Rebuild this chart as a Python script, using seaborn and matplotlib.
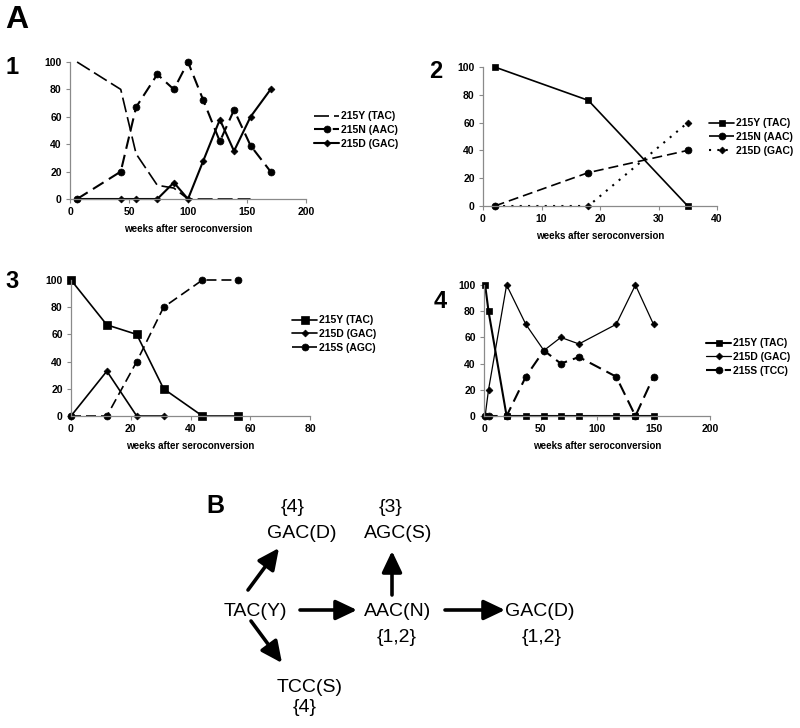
import numpy as np
import seaborn as sns
import matplotlib.pyplot as plt
from matplotlib.patches import FancyArrowPatch

# ---- data ----
# patient 1
weeks1 = [6, 43, 56, 74, 88, 100, 113, 127, 139, 153, 170]
tac1 = [100, 80, 33, 10, 8, 0, 0, 0, 0, 0]
aac1 = [0, 20, 67, 91, 80, 100, 72, 42, 65, 39, 20]
gac1 = [0, 0, 0, 0, 12, 0, 28, 58, 35, 60, 80]

# patient 2
weeks2 = [2, 18, 35]
tac2 = [100, 76, 0]
aac2 = [0, 24, 40]
gac2 = [0, 0, 60]

# patient 3
weeks3 = [0, 12, 22, 31, 44, 56]
tac3 = [100, 67, 60, 20, 0, 0]
gac3 = [0, 33, 0, 0]
agc3 = [0, 0, 40, 80, 100, 100]

# patient 4
weeks4 = [1, 4, 20, 37, 53, 68, 84, 117, 134, 150]
tac4 = [100, 80, 0, 0, 0, 0, 0, 0, 0, 0]
gac4 = [0, 20, 100, 70, 50, 60, 55, 70, 100, 70]
tcc4 = [0, 0, 0, 30, 50, 40, 45, 30, 0, 30]

sns.set_style("ticks")
plt.rcParams['font.family'] = ['Liberation Sans', 'DejaVu Sans']
plt.rcParams['font.weight'] = 'bold'
plt.rcParams['text.color'] = 'black'
plt.rcParams['axes.labelcolor'] = 'black'
plt.rcParams['xtick.labelcolor'] = 'black'
plt.rcParams['ytick.labelcolor'] = 'black'

fig = plt.figure(figsize=(8, 7.28), dpi=100)

W, H = 800, 728


def rect(x0, x1, ytop, ybot):
    return [x0 / W, 1 - ybot / H, (x1 - x0) / W, (ybot - ytop) / H]


def draw(ax, x, y, label, marker, ls, lw, ms):
    sns.lineplot(x=x[:len(y)], y=y, ax=ax, color='black', marker=marker,
                 linestyle=ls, linewidth=lw, markersize=ms,
                 markeredgecolor='black', markeredgewidth=0.5,
                 clip_on=False, label=label)


def style(ax, xmax, xstep, leg_x, leg_y):
    ax.set_xlim(0, xmax)
    ax.set_ylim(0, 100)
    ax.set_xticks(np.arange(0, xmax + 1, xstep))
    ax.set_yticks(range(0, 101, 20))
    ax.set_xlabel('weeks after seroconversion', fontsize=7, fontweight='bold', labelpad=5)
    ax.set_ylabel('')
    sns.despine(ax=ax)
    for s in ['left', 'bottom']:
        ax.spines[s].set_color('#8a8a8a')
        ax.spines[s].set_linewidth(0.9)
    ax.tick_params(length=3, width=0.8, color='#8a8a8a', labelsize=7.5, pad=3)
    ax.legend(loc='center left', bbox_to_anchor=(leg_x / W, 1 - leg_y / H),
              bbox_transform=fig.transFigure, frameon=False, fontsize=7.5,
              handlelength=2.4, handletextpad=0.2, labelspacing=0.35,
              borderpad=0, borderaxespad=0)


dash = (0, (6, 3))
longdash = (0, (9, 3))
dotted = (0, (1, 3))

ax1 = fig.add_axes(rect(70, 306, 62, 199))
draw(ax1, weeks1, tac1, '215Y (TAC)', None, longdash, 1.2, 0)
draw(ax1, weeks1, aac1, '215N (AAC)', 'o', dash, 1.5, 5)
draw(ax1, weeks1, gac1, '215D (GAC)', 'D', '-', 1.5, 3.5)
style(ax1, 200, 50, 314, 130)

ax2 = fig.add_axes(rect(483, 717, 67, 206))
draw(ax2, weeks2, tac2, '215Y (TAC)', 's', '-', 1.2, 5)
draw(ax2, weeks2, aac2, '215N (AAC)', 'o', dash, 1.2, 5)
draw(ax2, weeks2, gac2, '215D (GAC)', 'D', dotted, 1.5, 3.5)
style(ax2, 40, 10, 709, 137)

ax3 = fig.add_axes(rect(71, 310, 280, 416))
draw(ax3, weeks3, tac3, '215Y (TAC)', 's', '-', 1.2, 5.5)
draw(ax3, weeks3, gac3, '215D (GAC)', 'D', '-', 1.2, 3.5)
draw(ax3, weeks3, agc3, '215S (AGC)', 'o', dash, 1.2, 5)
style(ax3, 80, 20, 292, 334)

ax4 = fig.add_axes(rect(484, 710, 285, 416))
draw(ax4, weeks4, tac4, '215Y (TAC)', 's', '-', 1.5, 5)
draw(ax4, weeks4, gac4, '215D (GAC)', 'D', '-', 0.9, 3.5)
draw(ax4, weeks4, tcc4, '215S (TCC)', 'o', dash, 1.5, 5)
style(ax4, 200, 50, 706, 357)

# overlay in pixel coordinates for labels and the pathway diagram
ov = fig.add_axes([0, 0, 1, 1])
ov.set_xlim(0, W)
ov.set_ylim(H, 0)
ov.axis('off')

for txt, x, y, fs in [('A', 17, 20, 23), ('1', 12, 68, 17), ('2', 436, 71, 17),
                      ('3', 12, 282, 17), ('4', 440, 302, 17), ('B', 215, 506, 18)]:
    ov.text(x, y, txt, fontsize=fs, fontweight='bold', ha='center', va='center')

nodes = [('{4}', 293, 507), ('GAC(D)', 302, 533), ('{3}', 391, 507),
         ('AGC(S)', 398, 533), ('TAC(Y)', 255, 612), ('AAC(N)', 398, 612),
         ('{1,2}', 397, 638), ('GAC(D)', 540, 612), ('{1,2}', 542, 638),
         ('TCC(S)', 310, 687), ('{4}', 305, 708)]
for txt, x, y in nodes:
    ov.text(x, y, txt, fontsize=14, fontweight='normal', ha='center', va='center')

arrows = [((248, 590), (279, 548)), ((392, 595), (392, 551)),
          ((300, 610), (357, 610)), ((445, 610), (505, 610)),
          ((251, 621), (282, 663))]
for a, b in arrows:
    ov.add_patch(FancyArrowPatch(a, b, arrowstyle='-|>,head_length=0.8,head_width=0.38',
                                 mutation_scale=16, lw=2.6, color='black',
                                 shrinkA=0, shrinkB=0))

plt.savefig('out.png', dpi=100)
